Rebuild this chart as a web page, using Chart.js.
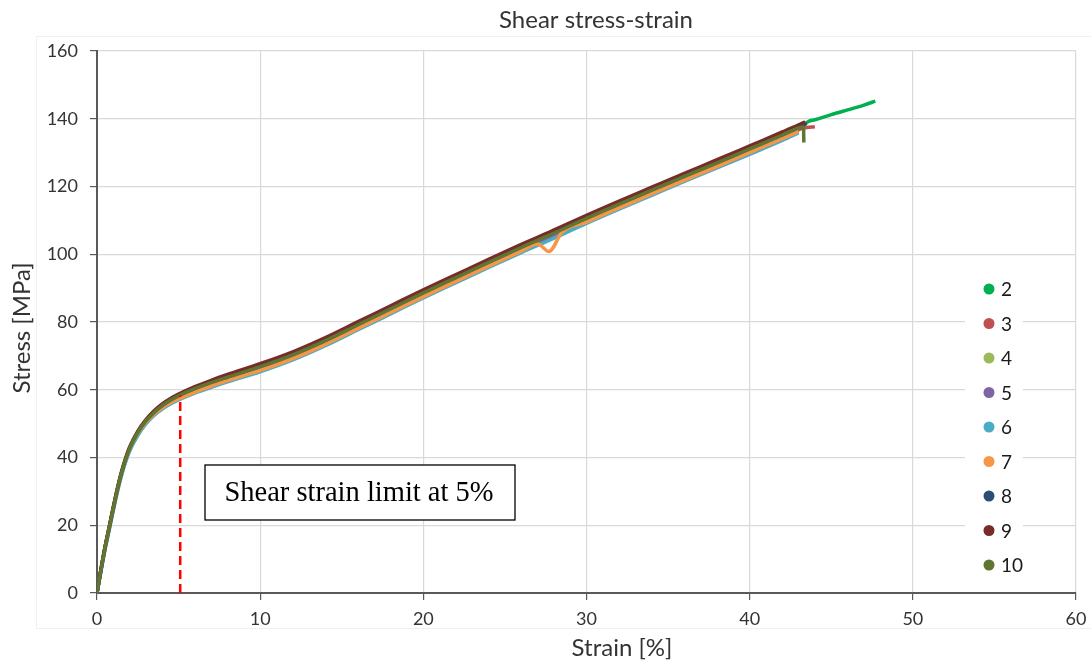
<!DOCTYPE html>
<html>
<head>
<meta charset="utf-8">
<title>Shear stress-strain</title>
<script src="https://cdn.jsdelivr.net/npm/chart.js@4.4.1/dist/chart.umd.min.js"></script>
<style>
  html, body { margin: 0; padding: 0; background: #fff; }
  canvas { display: block; }
</style>
</head>
<body>
<canvas id="shearChart" width="1091" height="662"></canvas>
<script>
// strain grid shared by all specimens [%]
const strain = [0, 0.25, 0.5, 0.75, 1, 1.25, 1.5, 1.75, 2, 2.5, 3, 3.5, 4, 4.5, 5, 6, 7, 8, 10, 12, 14, 16, 18, 20, 22, 24, 26, 27, 27.7, 28.5, 30, 32, 34, 36, 38, 40, 42, 43];

// stress per specimen [MPa]
const stress2  = [0, 7, 13.5, 19.2, 25, 30.5, 35.3, 39.3, 42.6, 47.2, 50.6, 53.1, 55.1, 56.6, 57.8, 59.9, 61.7, 63.3, 66.4, 69.9, 74.1, 78.8, 83.5, 88.2, 92.7, 97.2, 101.6, 103.7, 105.2, 106.9, 110.2, 114.4, 118.5, 122.6, 126.6, 130.7, 134.8, 136.9];
const stress3  = [0, 6.9, 13.4, 19.1, 24.9, 30.3, 35.1, 39.1, 42.4, 47, 50.4, 52.9, 54.9, 56.5, 57.7, 59.8, 61.6, 63.2, 66.3, 69.8, 74, 78.7, 83.4, 88.1, 92.6, 97.1, 101.5, 103.6, 105.1, 106.8, 110.1, 114.3, 118.4, 122.5, 126.5, 130.6, 134.7, 136.8];
const stress4  = [0, 7.1, 13.6, 19.3, 25, 30.4, 35.2, 39.2, 42.5, 47.1, 50.4, 52.9, 54.8, 56.4, 57.6, 59.7, 61.5, 63.1, 66.2, 69.7, 73.9, 78.6, 83.3, 88, 92.5, 97, 101.4, 103.5, 105, 106.7, 110, 114.2, 118.3, 122.4, 126.4, 130.5, 134.6, 136.7];
const stress5  = [0, 6.8, 13.2, 18.9, 24.7, 30.2, 35, 39, 42.3, 46.9, 50.3, 52.8, 54.7, 56.3, 57.5, 59.6, 61.4, 63, 66.1, 69.6, 73.8, 78.5, 83.2, 87.9, 92.4, 96.9, 101.3, 103.4, 104.9, 106.6, 109.9, 114.1, 118.2, 122.3, 126.3, 130.4, 134.5, 136.6];
const stress6  = [0, 6.6, 13, 18.6, 24.4, 29.8, 34.6, 38.6, 41.9, 46.5, 49.9, 52.4, 54.3, 55.8, 57, 59, 60.7, 62.3, 65.3, 68.8, 73, 77.7, 82.4, 87.1, 91.6, 96.1, 100.5, 102.6, 104.1, 105.8, 109.1, 113.3, 117.4, 121.5, 125.5, 129.5, 133.6, 135.8];
const stress7  = [0, 7.2, 13.7, 19.4, 25.2, 30.6, 35.4, 39.3, 42.6, 47.1, 50.4, 52.8, 54.7, 56.2, 57.3, 59.3, 61.1, 62.7, 65.7, 69.2, 73.4, 78.1, 82.8, 87.5, 92, 96.5, 100.9, 103, 100.8, 106.5, 109.5, 113.7, 117.8, 121.9, 125.9, 130, 134.1, 136.2];
const stress8  = [0, 7.1, 13.7, 19.4, 25.2, 30.7, 35.5, 39.5, 42.8, 47.5, 50.9, 53.4, 55.4, 57, 58.3, 60.5, 62.3, 63.9, 67.1, 70.6, 74.8, 79.5, 84.2, 88.9, 93.4, 97.9, 102.3, 104.4, 105.9, 107.6, 110.9, 115.1, 119.2, 123.3, 127.3, 131.4, 135.5, 137.6];
const stress9  = [0, 7.2, 13.8, 19.6, 25.4, 30.9, 35.8, 39.8, 43.1, 47.8, 51.2, 53.8, 55.8, 57.4, 58.7, 60.9, 62.8, 64.5, 67.7, 71.2, 75.4, 80.1, 84.8, 89.5, 94, 98.5, 102.9, 105, 106.5, 108.2, 111.5, 115.7, 119.8, 123.9, 127.9, 132, 136.1, 138.2];
const stress10 = [0, 7, 13.6, 19.3, 25.1, 30.6, 35.4, 39.4, 42.7, 47.4, 50.8, 53.3, 55.3, 56.9, 58.2, 60.3, 62.1, 63.7, 66.8, 70.3, 74.5, 79.2, 83.9, 88.6, 93.1, 97.6, 102, 104.1, 105.6, 107.3, 110.6, 114.8, 118.9, 123, 127, 131.1, 135.2, 137.3];

// last readings before failure
const tailStrain2  = [43.6, 44, 45, 46, 47, 47.7];
const tailStress2  = [139.2, 139.7, 141.2, 142.6, 144, 145.2];
const tailStrain3  = [43.5, 44];
const tailStress3  = [137.4, 137.6];
const tailStrain8  = [43.5];
const tailStress8  = [138.6];
const tailStrain9  = [43.4];
const tailStress9  = [139.1];
const tailStrain10 = [43.3, 43.32];
const tailStress10 = [137.6, 133];

const specimens = ["2", "3", "4", "5", "6", "7", "8", "9", "10"];
const colors = ["#00b050", "#c0504d", "#9bbb59", "#8064a2", "#4bacc6", "#f79646", "#2c4d75", "#772c2a", "#5f7530"];

const xTickValues = [0, 10, 20, 30, 40, 50, 60];
const yTickValues = [0, 20, 40, 60, 80, 100, 120, 140, 160];

// 5 % shear strain limit
const limitStrain = [5.1, 5.1];
const limitStress = [0, 58.3];

const toPoints = (xs, ys) => xs.map((x, i) => ({ x: x, y: ys[i] }));

const stressLists = [stress2, stress3, stress4, stress5, stress6, stress7, stress8, stress9, stress10];
const tails = {
  0: [tailStrain2, tailStress2],
  1: [tailStrain3, tailStress3],
  6: [tailStrain8, tailStress8],
  7: [tailStrain9, tailStress9],
  8: [tailStrain10, tailStress10]
};

const datasets = specimens.map((name, i) => {
  let pts = toPoints(strain, stressLists[i]);
  if (tails[i]) pts = pts.concat(toPoints(tails[i][0], tails[i][1]));
  return {
    label: name,
    data: pts,
    borderColor: colors[i],
    backgroundColor: colors[i],
    borderWidth: 3.5,
    pointRadius: 0,
    cubicInterpolationMode: "monotone",
    order: specimens.length - i
  };
});

datasets.push({
  label: "",
  data: toPoints(limitStrain, limitStress),
  borderColor: "#ff0000",
  borderWidth: 2.5,
  borderDash: [9, 5],
  pointRadius: 0,
  order: 0
});

const FONT = "Lato, 'Open Sans', sans-serif";

const decorations = {
  id: "decorations",
  beforeDraw(chart) {
    const ctx = chart.ctx;
    ctx.save();
    ctx.strokeStyle = "#f0f0f0";
    ctx.lineWidth = 1;
    ctx.strokeRect(36.5, 36.5, 1060, 592);
    ctx.restore();
  },
  afterDatasetsDraw(chart) {
    const ctx = chart.ctx;
    ctx.save();
    // annotation box
    ctx.fillStyle = "#fff";
    ctx.fillRect(205, 465, 310, 55);
    ctx.strokeStyle = "#000";
    ctx.lineWidth = 1.3;
    ctx.strokeRect(205, 465, 310, 55);
    ctx.fillStyle = "#000";
    ctx.font = "28.5px 'Liberation Serif', 'Times New Roman', serif";
    ctx.textAlign = "center";
    ctx.textBaseline = "middle";
    ctx.fillText("Shear strain limit at 5%", 359, 494);
    ctx.restore();
  },
  afterDraw(chart) {
    const ctx = chart.ctx;
    ctx.save();
    ctx.textAlign = "center";
    ctx.textBaseline = "middle";
    ctx.fillStyle = "#333";
    ctx.font = "24px " + FONT;
    ctx.fillText("Shear stress-strain", 596, 20);
    ctx.fillText("Strain [%]", 622, 648);
    ctx.save();
    ctx.translate(22, 328);
    ctx.rotate(-Math.PI / 2);
    ctx.fillText("Stress [MPa]", 0, 0);
    ctx.restore();

    // legend
    ctx.fillStyle = "#fff";
    ctx.fillRect(965, 272, 58, 310);
    ctx.textAlign = "left";
    ctx.font = "19px " + FONT;
    chart.data.datasets.forEach((ds, i) => {
      if (!ds.label) return;
      const y = 289 + i * 34.5;
      ctx.beginPath();
      ctx.arc(989, y, 5.5, 0, Math.PI * 2);
      ctx.fillStyle = ds.borderColor;
      ctx.fill();
      ctx.fillStyle = "#1a1a1a";
      ctx.fillText(ds.label, 1001, y + 1);
    });
    ctx.restore();
  }
};

new Chart(document.getElementById("shearChart"), {
  type: "line",
  data: { datasets: datasets },
  options: {
    responsive: false,
    devicePixelRatio: 1,
    animation: false,
    layout: { padding: { top: 51, right: 15, left: 0, bottom: 0 } },
    plugins: {
      legend: { display: false },
      title: { display: false },
      tooltip: { enabled: false }
    },
    scales: {
      x: {
        type: "linear",
        min: 0,
        max: 60,
        afterBuildTicks: s => { s.ticks = xTickValues.map(v => ({ value: v })); },
        afterFit: s => { s.height = 69; s.paddingLeft = 0; s.paddingRight = 0; },
        grid: { color: "#d9d9d9", lineWidth: 1.2, tickColor: "#595959", tickLength: 7 },
        border: { color: "#595959", width: 2 },
        ticks: { color: "#333", font: { family: FONT, size: 18 }, padding: 8, maxRotation: 0 }
      },
      y: {
        min: 0,
        max: 160,
        afterBuildTicks: s => { s.ticks = yTickValues.map(v => ({ value: v })); },
        afterFit: s => { s.width = 97; s.paddingTop = 0; s.paddingBottom = 0; },
        grid: { color: "#d9d9d9", lineWidth: 1.2, tickColor: "#595959", tickLength: 7 },
        border: { color: "#595959", width: 2 },
        ticks: { color: "#333", font: { family: FONT, size: 18 }, padding: 12 }
      }
    }
  },
  plugins: [decorations]
});
</script>
</body>
</html>
